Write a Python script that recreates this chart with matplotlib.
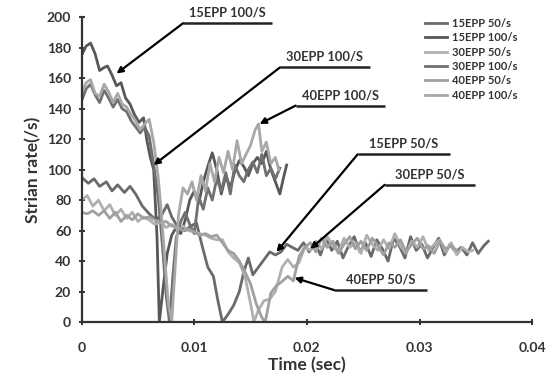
import matplotlib
matplotlib.use("Agg")
import matplotlib.pyplot as plt

plt.rcParams["font.family"] = ["Lato", "DejaVu Sans"]

# --- data (time in s, strain rate in 1/s) ---
t_15_50 = [0.0000, 0.0006, 0.0011, 0.0016, 0.0022, 0.0027, 0.0032, 0.0038, 0.0043, 0.0048,
           0.0054, 0.0060, 0.0066, 0.0071, 0.0076, 0.0080, 0.0084, 0.0088, 0.0092, 0.0097,
           0.0102, 0.0107, 0.0112, 0.0117, 0.0121, 0.0125, 0.0130, 0.0135, 0.0140, 0.0144,
           0.0148, 0.0152, 0.0157, 0.0162, 0.0167, 0.0172, 0.0177, 0.0182, 0.0187, 0.0192,
           0.0197, 0.0202, 0.0207, 0.0212, 0.0217, 0.0222, 0.0227, 0.0232, 0.0237, 0.0242,
           0.0247, 0.0252, 0.0257, 0.0262, 0.0267, 0.0272, 0.0277, 0.0282, 0.0287, 0.0292,
           0.0297, 0.0302, 0.0307, 0.0312, 0.0317, 0.0322, 0.0327, 0.0332, 0.0337, 0.0342,
           0.0347, 0.0352, 0.0357, 0.0361]
v_15_50 = [95, 91, 94, 89, 92, 86, 90, 85, 89, 84,
           76, 71, 67, 70, 77, 69, 64, 61, 60, 63,
           65, 50, 36, 30, 14, 0, 5, 11, 20, 33,
           42, 31, 36, 41, 46, 44, 46, 51, 49, 47,
           52, 46, 52, 44, 55, 47, 53, 42, 50, 56,
           46, 52, 43, 54, 48, 40, 55, 50, 42, 56,
           47, 51, 42, 49, 55, 44, 51, 46, 49, 44,
           52, 45, 50, 53]

t_15_100 = [0.0000, 0.0004, 0.0008, 0.0012, 0.0016, 0.0020, 0.0023, 0.0027, 0.0031, 0.0035,
            0.0039, 0.0043, 0.0047, 0.0051, 0.0055, 0.0058, 0.0061, 0.0064, 0.0067, 0.0069,
            0.0072, 0.0076, 0.0080, 0.0084, 0.0088, 0.0092, 0.0096, 0.0100, 0.0104, 0.0108,
            0.0112, 0.0116, 0.0120, 0.0124, 0.0128, 0.0132, 0.0136, 0.0140, 0.0144, 0.0148,
            0.0152, 0.0156, 0.0160, 0.0164, 0.0168, 0.0172, 0.0176, 0.0179, 0.0182]
v_15_100 = [175, 181, 183, 176, 165, 167, 168, 162, 155, 157,
            147, 143, 136, 131, 134, 119, 108, 100, 55, 0,
            20, 45, 57, 62, 58, 67, 80, 86, 78, 92,
            102, 111, 100, 84, 96, 88, 99, 106, 102, 96,
            104, 108, 104, 112, 100, 92, 84, 94, 103]

t_30_50 = [0.0000, 0.0005, 0.0010, 0.0015, 0.0020, 0.0025, 0.0030, 0.0035, 0.0040, 0.0045,
           0.0050, 0.0055, 0.0060, 0.0065, 0.0070, 0.0075, 0.0080, 0.0085, 0.0090, 0.0095,
           0.0100, 0.0105, 0.0110, 0.0115, 0.0120, 0.0125, 0.0130, 0.0135, 0.0140, 0.0145,
           0.0150, 0.0153, 0.0157, 0.0162, 0.0167, 0.0172, 0.0178, 0.0183, 0.0188, 0.0193,
           0.0198, 0.0203, 0.0208, 0.0213, 0.0218, 0.0223, 0.0228, 0.0233, 0.0238, 0.0243,
           0.0248, 0.0253, 0.0258, 0.0263, 0.0268, 0.0273, 0.0278, 0.0283, 0.0288, 0.0293,
           0.0298, 0.0303, 0.0308, 0.0313, 0.0318, 0.0323, 0.0328, 0.0333, 0.0338, 0.0343,
           0.0347]
v_30_50 = [80, 83, 76, 80, 73, 77, 70, 74, 68, 72,
           66, 69, 67, 64, 66, 62, 64, 61, 63, 60,
           59, 58, 57, 55, 54, 54, 46, 42, 39, 30,
           12, 0, 8, 14, 15, 20, 36, 41, 36, 39,
           49, 47, 53, 48, 56, 50, 46, 55, 49, 52,
           45, 57, 51, 47, 54, 48, 58, 50, 45, 53,
           49, 56, 47, 51, 54, 46, 52, 44, 49, 46,
           47]

t_30_100 = [0.0000, 0.0004, 0.0008, 0.0012, 0.0016, 0.0020, 0.0024, 0.0028, 0.0032, 0.0036,
            0.0040, 0.0044, 0.0048, 0.0052, 0.0056, 0.0060, 0.0064, 0.0068, 0.0072, 0.0075,
            0.0078, 0.0081, 0.0084, 0.0088, 0.0092, 0.0096, 0.0100, 0.0104, 0.0108, 0.0112,
            0.0116, 0.0120, 0.0124, 0.0128, 0.0132, 0.0136, 0.0140, 0.0144, 0.0148, 0.0152,
            0.0156, 0.0160, 0.0164, 0.0168, 0.0172, 0.0176]
v_30_100 = [145, 153, 156, 149, 144, 152, 147, 141, 146, 140,
            138, 132, 128, 124, 128, 122, 103, 82, 48, 18,
            0, 30, 55, 66, 72, 64, 58, 82, 74, 88,
            80, 94, 86, 98, 84, 103, 96, 92, 100, 105,
            98, 110, 96, 101, 94, 101]

t_40_50 = [0.0000, 0.0005, 0.0010, 0.0015, 0.0020, 0.0025, 0.0030, 0.0035, 0.0040, 0.0045,
           0.0050, 0.0055, 0.0060, 0.0065, 0.0070, 0.0075, 0.0080, 0.0085, 0.0090, 0.0095,
           0.0100, 0.0105, 0.0110, 0.0115, 0.0120, 0.0125, 0.0130, 0.0135, 0.0140, 0.0145,
           0.0150, 0.0155, 0.0160, 0.0163, 0.0168, 0.0173, 0.0177, 0.0183, 0.0188, 0.0193,
           0.0198, 0.0203, 0.0208, 0.0213, 0.0218, 0.0223, 0.0228, 0.0233, 0.0238, 0.0243,
           0.0248, 0.0253, 0.0258, 0.0263, 0.0268, 0.0273, 0.0278, 0.0283, 0.0288, 0.0293,
           0.0298, 0.0303, 0.0308, 0.0313, 0.0318, 0.0323, 0.0328, 0.0333]
v_40_50 = [72, 71, 73, 70, 73, 68, 72, 66, 70, 67,
           71, 68, 69, 67, 65, 66, 63, 62, 60, 61,
           59, 57, 58, 56, 57, 52, 47, 45, 40, 33,
           25, 12, 3, 0, 19, 24, 26, 30, 27, 43,
           49, 52, 46, 55, 49, 53, 45, 51, 56, 48,
           53, 47, 55, 50, 44, 52, 49, 54, 46, 51,
           55, 48, 50, 45, 53, 48, 50, 47]

t_40_100 = [0.0000, 0.0004, 0.0008, 0.0012, 0.0016, 0.0020, 0.0024, 0.0028, 0.0032, 0.0036,
            0.0040, 0.0044, 0.0048, 0.0052, 0.0056, 0.0060, 0.0064, 0.0068, 0.0071, 0.0074,
            0.0077, 0.0080, 0.0083, 0.0086, 0.0090, 0.0094, 0.0098, 0.0102, 0.0106, 0.0110,
            0.0114, 0.0118, 0.0122, 0.0126, 0.0130, 0.0134, 0.0138, 0.0142, 0.0146, 0.0150,
            0.0154, 0.0157, 0.0160, 0.0164, 0.0168, 0.0172, 0.0175]
v_40_100 = [150, 157, 159, 150, 148, 156, 151, 144, 150, 143,
            141, 136, 132, 126, 130, 133, 118, 95, 70, 40,
            12, 0, 35, 70, 88, 84, 92, 80, 96, 86,
            104, 92, 108, 98, 112, 100, 119, 104, 110, 116,
            126, 130, 112, 118, 104, 108, 100]

labels = ["15EPP 50/s", "15EPP 100/s", "30EPP 50/s", "30EPP 100/s", "40EPP 50/s", "40EPP 100/s"]
times = [t_15_50, t_15_100, t_30_50, t_30_100, t_40_50, t_40_100]
values = [v_15_50, v_15_100, v_30_50, v_30_100, v_40_50, v_40_100]
colors = ["#6a6a6a", "#585858", "#b0b0b0", "#707070", "#a0a0a0", "#a8a8a8"]

# callouts: text, underline start (x, y), underline end x, arrow tip (x, y)
notes = [
    ("15EPP 100/S", (0.0090, 196), 0.0169, (0.0031, 163)),
    ("30EPP 100/S", (0.0176, 167), 0.0256, (0.0064, 103)),
    ("40EPP 100/S", (0.0190, 142), 0.0269, (0.0158, 130)),
    ("15EPP 50/S", (0.0245, 110), 0.0327, (0.0173, 46)),
    ("30EPP 50/S", (0.0269, 90), 0.0349, (0.0203, 48)),
    ("40EPP 50/S", (0.0224, 21), 0.0307, (0.0189, 29)),
]

fig = plt.figure(figsize=(5.55, 3.82), dpi=100)
ax = fig.add_axes([0.147, 0.157, 0.812, 0.798])

for t, v, c, lab in zip(times, values, colors, labels):
    ax.plot(t, v, color=c, lw=2.0, label=lab, solid_joinstyle="round")

for text, (x0, y0), x1, tip in notes:
    ax.plot([x0, x1], [y0, y0], color="#222222", lw=1.8, solid_capstyle="butt")
    ax.text((x0 + x1) / 2, y0 + 3, text, ha="center", va="bottom",
            fontsize=9.3, fontweight="bold", color="#333333")
    ax.annotate("", xy=tip, xytext=(x0, y0),
                arrowprops=dict(arrowstyle="-|>", color="black", lw=1.6,
                                mutation_scale=9, shrinkA=0, shrinkB=0))

ax.set_xlim(0, 0.04)
ax.set_ylim(0, 200)
ax.set_xticks([0, 0.01, 0.02, 0.03, 0.04])
ax.set_xticklabels(["0", "0.01", "0.02", "0.03", "0.04"])
ax.set_yticks(range(0, 201, 20))

for s in ["top", "right"]:
    ax.spines[s].set_visible(False)
for s in ["left", "bottom"]:
    ax.spines[s].set_linewidth(1.6)
    ax.spines[s].set_color("#333333")

ax.tick_params(axis="y", direction="inout", length=5, width=1.4, pad=5,
               labelsize=10, colors="#333333")
ax.tick_params(axis="x", direction="inout", length=5, width=1.4, pad=12,
               labelsize=10, colors="#333333")
for lbl in ax.get_xticklabels() + ax.get_yticklabels():
    lbl.set_fontweight("bold")

ax.set_xlabel("Time (sec)", fontsize=12.5, fontweight="bold", color="#333333", labelpad=2)
ax.set_ylabel("Strian rate(/s)", fontsize=12.5, fontweight="bold", color="#333333", labelpad=4)

leg = ax.legend(loc="upper left", bbox_to_anchor=(0.74, 1.03), frameon=False,
                fontsize=8, labelspacing=0.3, handlelength=2.0, handletextpad=0.4)
for txt in leg.get_texts():
    txt.set_fontweight("bold")
    txt.set_color("#333333")

fig.savefig("out.png", dpi=100)
